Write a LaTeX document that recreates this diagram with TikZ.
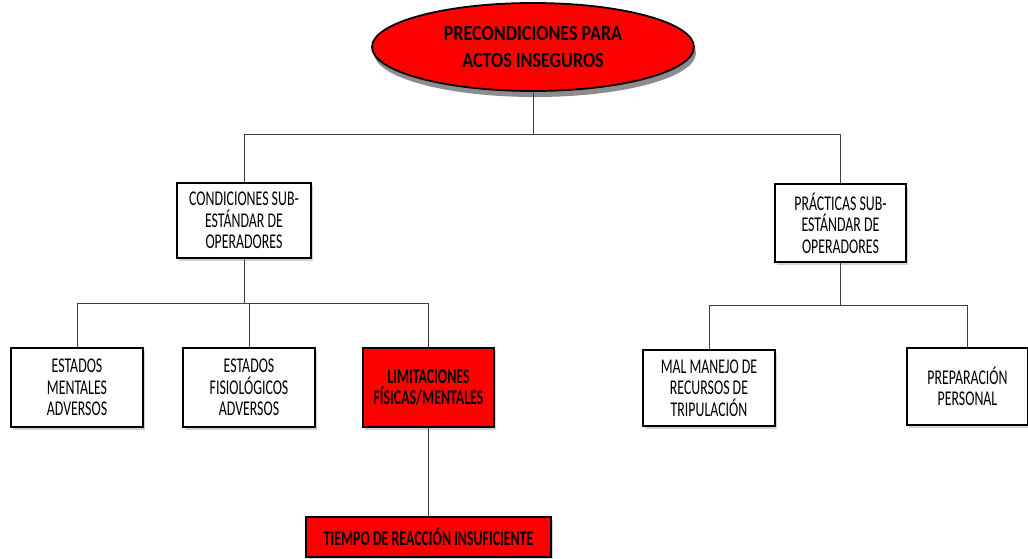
\documentclass[tikz,border=0pt]{standalone}
\usepackage{fontspec}
\setmainfont{Carlito}[FakeStretch=0.66]
\newfontfamily\widebold{Carlito}[FakeStretch=0.84]
\usetikzlibrary{shapes.geometric,shadows}
\tikzstyle{box}=[rectangle,draw=black,line width=1.6pt,fill=white,align=center,inner sep=0pt,
  drop shadow={shadow xshift=2pt,shadow yshift=-3pt,opacity=0.35}]
\tikzstyle{redbox}=[box,fill=red,font=\fontsize{21}{21.5}\selectfont\bfseries]
\tikzstyle{topnode}=[ellipse,draw=black,line width=1.8pt,fill=red,align=center,inner sep=0pt,
  minimum width=322pt,minimum height=88pt,font=\fontsize{21.5}{27}\widebold\bfseries,
  drop shadow={shadow xshift=2pt,shadow yshift=-6pt,opacity=0.9}]
\tikzstyle{edge}=[draw,line width=0.8pt,black!75]

\begin{document}
\begin{tikzpicture}[x=1pt,y=-1pt,every node/.style={font=\fontsize{21}{21.5}\selectfont}]
    \useasboundingbox (0,0) rectangle (1028,558);
    \node[topnode] (root) at (533,47) {PRECONDICIONES PARA\\ACTOS INSEGUROS};
    % white boxes
    \foreach \pos/\name/\w/\h/\txt in {{(244,220.5)/cond/134/75/CONDICIONES SUB-\\ESTÁNDAR DE\\OPERADORES},
    {(840.5,223)/prac/131/78/PRÁCTICAS SUB-\\ESTÁNDAR DE\\OPERADORES},
    {(77,387.5)/estm/132/79/ESTADOS\\MENTALES\\ADVERSOS}, {(249,387.5)/estf/132/79/ESTADOS\\FISIOLÓGICOS\\ADVERSOS},
    {(709,388)/mal/132/76/MAL MANEJO DE\\RECURSOS DE\\TRIPULACIÓN}, {(967.5,386.5)/prep/121/77/PREPARACIÓN\\PERSONAL}}
        \node[box,minimum width=\w pt,minimum height=\h pt] (\name) at \pos {\txt};
    % red boxes
    \node[redbox,minimum width=131pt,minimum height=79pt] (lim) at (428.5,387.5) {LIMITACIONES\\FÍSICAS{/}MENTALES};
    \node[redbox,minimum width=245pt,minimum height=40pt] (tiempo) at (428.5,537) {TIEMPO DE REACCIÓN INSUFICIENTE};
    % junctions
    \coordinate (j0) at (533,134);
    \coordinate (j1) at (244,303);
    \coordinate (j2) at (840.5,305);
    \path[edge] (root) -- (j0);
    \foreach \dest in {cond,prac}
        \path[edge] (j0) -| (\dest.north);
    \path[edge] (cond) -- (j1);
    \foreach \dest in {estm,estf,lim}
        \path[edge] (j1) -| (\dest.north);
    \path[edge] (prac) -- (j2);
    \foreach \dest in {mal,prep}
        \path[edge] (j2) -| (\dest.north);
    \path[edge] (lim) -- (tiempo);
\end{tikzpicture}
\end{document}
